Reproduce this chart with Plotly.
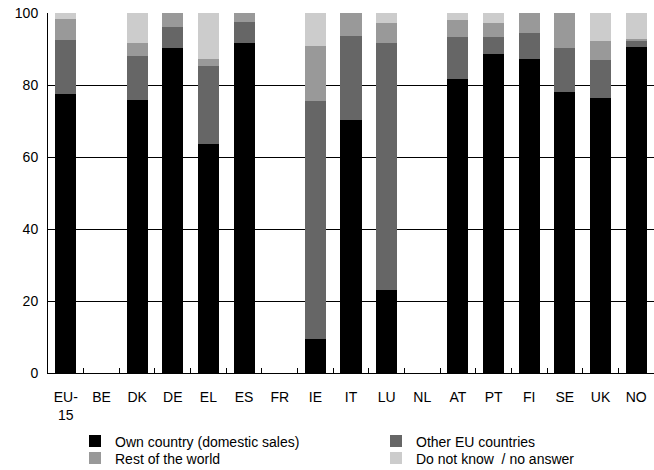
import plotly.graph_objects as go

countries = ["EU-<br>15", "BE", "DK", "DE", "EL", "ES", "FR", "IE", "IT", "LU",
             "NL", "AT", "PT", "FI", "SE", "UK", "NO"]
own_country = [77.6, None, 75.9, 90.4, 63.7, 91.8, None, 9.5, 70.4, 23.1,
               None, 81.7, 88.7, 87.3, 78.1, 76.5, 90.6]
other_eu = [15.0, None, 12.2, 5.8, 21.7, 5.8, None, 66.1, 23.3, 68.6,
            None, 11.7, 4.7, 7.2, 12.3, 10.5, 1.7]
rest_world = [5.8, None, 3.6, 3.8, 1.9, 2.4, None, 15.3, 6.3, 5.6,
              None, 4.7, 3.9, 5.5, 9.6, 5.3, 0.6]
dont_know = [1.6, None, 8.3, 0.0, 12.7, 0.0, None, 9.1, 0.0, 2.7,
             None, 1.9, 2.7, 0.0, 0.0, 7.7, 7.1]

series = [
    ("Own country (domestic sales)", own_country, "#000000", "legend"),
    ("Other EU countries", other_eu, "#666666", "legend2"),
    ("Rest of the world", rest_world, "#999999", "legend3"),
    ("Do not know  / no answer", dont_know, "#cccccc", "legend4"),
]

fig = go.Figure()
for name, vals, col, lg in series:
    fig.add_trace(go.Bar(x=countries, y=vals, name=name, legend=lg,
                         marker=dict(color=col, line=dict(width=0))))

font = "Liberation Sans, Arial, sans-serif"
W, H = 654, 470


def legend_at(left, top):
    return dict(orientation="h", xref="container", yref="container",
                x=left / W, y=1 - top / H, xanchor="left", yanchor="top",
                font=dict(size=14), itemclick=False, bgcolor="rgba(0,0,0,0)",
                borderwidth=0)


fig.update_layout(
    width=W, height=H,
    barmode="stack", bargap=0.41,
    plot_bgcolor="white", paper_bgcolor="white",
    margin=dict(l=48, r=0, t=13, b=97, autoexpand=False),
    font=dict(family=font, size=14, color="black"),
    showlegend=True,
    legend=legend_at(75, 425.5),
    legend2=legend_at(376, 425.5),
    legend3=legend_at(75, 442.5),
    legend4=legend_at(376, 442.5),
    xaxis=dict(showline=True, linecolor="black", linewidth=1, ticks="inside",
               ticklen=5, tickcolor="black", tickson="boundaries",
               showgrid=False, tickfont=dict(size=14), ticklabelstandoff=11),
    yaxis=dict(range=[0, 100], dtick=20, showline=True, linecolor="black",
               linewidth=1, showgrid=True, gridcolor="black", gridwidth=1,
               ticks="", tickfont=dict(size=14), zeroline=False,
               ticklabelstandoff=6),
)
fig.write_html("out.html", config={"displayModeBar": False},
               post_script="document.body.style.margin='0';")
